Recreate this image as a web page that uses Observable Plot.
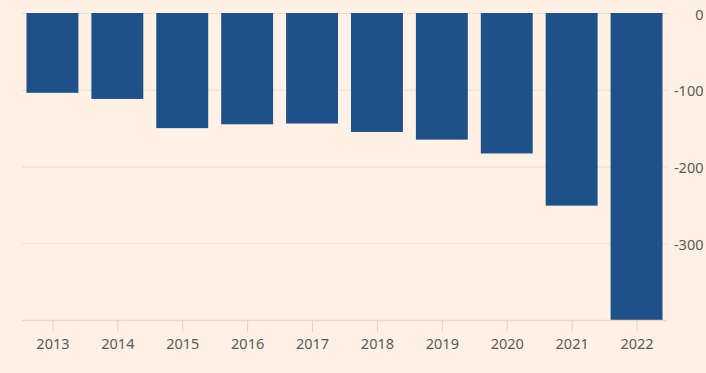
<!DOCTYPE html>
<html>
<head>
<meta charset="utf-8">
<script src="https://cdn.jsdelivr.net/npm/d3@7"></script>
<script src="https://cdn.jsdelivr.net/npm/@observablehq/plot@0.6"></script>
<style>
  html, body { margin: 0; padding: 0; background: #FFF1E5; }
  #chart svg { display: block; }
</style>
</head>
<body>
<div id="chart"></div>
<script>
const years = ["2013","2014","2015","2016","2017","2018","2019","2020","2021","2022"];
const values = [-104, -112, -150, -145, -144, -155, -165, -183, -251, -400];
const yTicks = [0, -100, -200, -300];

const data = years.map((y, i) => ({year: y, value: values[i]}));

const chart = Plot.plot({
  width: 706,
  height: 373,
  marginTop: 13,
  marginBottom: 53,
  marginLeft: 20,
  marginRight: 37,
  style: {background: "#FFF1E5", fontFamily: "'Noto Sans', sans-serif", fontSize: "14px", color: "#5F5955"},
  x: {domain: years, paddingInner: 0.2, paddingOuter: 0.1, round: false},
  y: {domain: [-400, 0]},
  marks: [
    Plot.ruleY(yTicks, {stroke: "#E9DED3", strokeWidth: 1, insetLeft: 2, insetRight: 2}),
    Plot.barY(data, {x: "year", y: "value", fill: "#1F5189"}),
    Plot.ruleY([-400], {stroke: "#E6D9CE", strokeWidth: 1.5, insetLeft: 2, insetRight: 2}),
    Plot.axisX({tickSize: 12, tickPadding: 6, stroke: "#DDD2C8", fill: "#5F5955", fontSize: 14.5, label: null}),
    Plot.axisY({anchor: "right", ticks: yTicks, tickSize: 0, textAnchor: "end", dx: 25, dy: 1.5, fill: "#5F5955", fontSize: 14.5, label: null, tickFormat: d => String(d)})
  ]
});
document.getElementById("chart").appendChild(chart);
</script>
</body>
</html>
